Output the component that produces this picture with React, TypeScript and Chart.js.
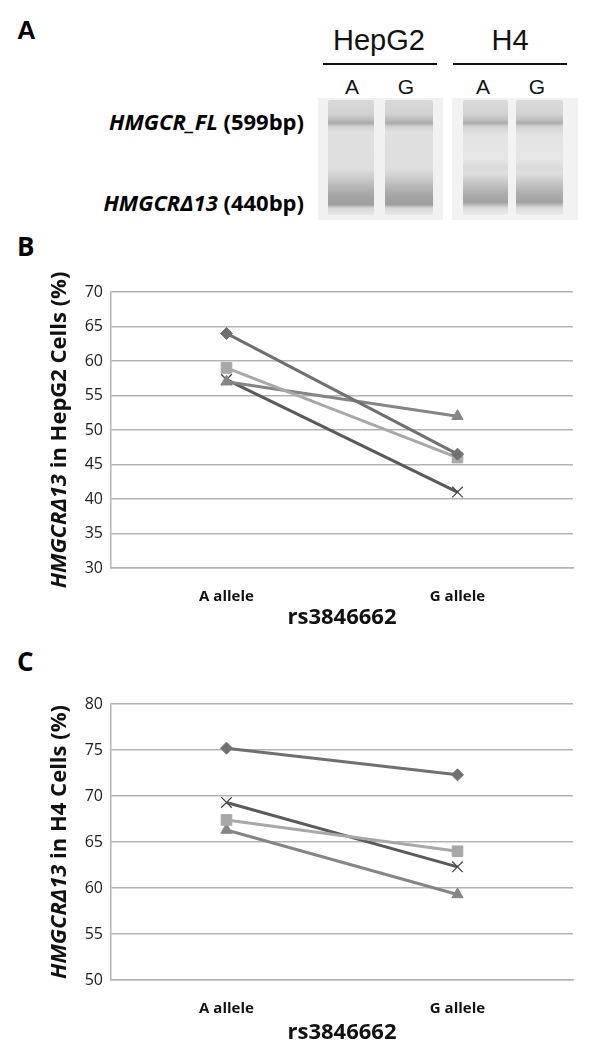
import React, { useEffect, useRef } from "react";
import { Chart, registerables } from "chart.js";

Chart.register(...registerables);

// ---------- data ----------
const categories = ["A allele", "G allele"];
const xAxisTitle = "rs3846662";

const hepg2Diamond = [64, 46.5];
const hepg2Square = [59, 46];
const hepg2Triangle = [57, 52];
const hepg2Cross = [57.3, 41];
const hepg2YMin = 30;
const hepg2YMax = 70;

const h4Diamond = [75.2, 72.3];
const h4Square = [67.4, 64];
const h4Triangle = [66.3, 59.3];
const h4Cross = [69.3, 62.3];
const h4YMin = 50;
const h4YMax = 80;

const yStep = 5;

const seriesStyles = [
  { key: "diamond", color: "#707070", point: "rectRot", radius: 6 },
  { key: "square", color: "#a8a8a8", point: "rect", radius: 7.5 },
  { key: "triangle", color: "#858585", point: "triangle", radius: 6.5 },
  { key: "cross", color: "#5a5a5a", point: "crossRot", radius: 7.5 },
];

const FONT = "'Open Sans', 'Liberation Sans', sans-serif";
const ARIAL = "'Liberation Sans', Arial, sans-serif";

// draws the rotated, mixed-style y axis title
const yTitlePlugin = {
  id: "yTitle",
  afterDraw(chart: any, _args: any, opts: any) {
    const { ctx, chartArea } = chart;
    const parts: { text: string; italic: boolean }[] = opts.parts || [];
    const size = opts.size || 20;
    ctx.save();
    ctx.translate(opts.x, (chartArea.top + chartArea.bottom) / 2);
    ctx.rotate(-Math.PI / 2);
    ctx.textBaseline = "middle";
    ctx.fillStyle = "#111";
    const fonts = parts.map(
      (p) => `${p.italic ? "italic " : ""}bold ${size}px ${FONT}`
    );
    let total = 0;
    const widths = parts.map((p, i) => {
      ctx.font = fonts[i];
      const w = ctx.measureText(p.text).width;
      total += w;
      return w;
    });
    let x = -total / 2;
    parts.forEach((p, i) => {
      ctx.font = fonts[i];
      ctx.textAlign = "left";
      ctx.fillText(p.text, x, 0);
      x += widths[i];
    });
    ctx.restore();
  },
};

type LineChartProps = {
  top: number;
  values: number[][];
  yMin: number;
  yMax: number;
  titlePadBottom: number;
  titleParts: { text: string; italic: boolean }[];
};

function LineChart({ top, values, yMin, yMax, titlePadBottom, titleParts }: LineChartProps) {
  const ref = useRef<HTMLCanvasElement | null>(null);
  useEffect(() => {
    if (!ref.current) return;
    const chart = new Chart(ref.current, {
      type: "line",
      data: {
        labels: categories,
        datasets: seriesStyles.map((s, i) => ({
          label: s.key,
          data: values[i],
          borderColor: s.color,
          backgroundColor: s.color,
          borderWidth: 3,
          pointStyle: s.point as any,
          pointRadius: s.radius,
          pointBorderWidth: s.point === "crossRot" ? 1.3 : 1,
          pointBorderColor: s.point === "crossRot" ? "#4a4a4a" : s.color,
          pointBackgroundColor: s.color,
          tension: 0,
        })),
      },
      plugins: [yTitlePlugin],
      options: {
        responsive: false,
        animation: false,
        devicePixelRatio: 1,
        layout: { padding: { top: 22, right: 27, left: 0, bottom: 0 } },
        plugins: {
          legend: { display: false },
          tooltip: { enabled: false },
          yTitle: { x: 60, size: 22, parts: titleParts },
        } as any,
        scales: {
          x: {
            offset: true,
            grid: { display: false, drawTicks: false },
            border: { display: true, color: "#b3b3b3", width: 1.5 },
            ticks: {
              padding: 20,
              color: "#111",
              font: { family: FONT, size: 15, weight: "bold" },
            },
            title: {
              display: true,
              text: xAxisTitle,
              color: "#111",
              padding: { top: 2, bottom: titlePadBottom },
              font: { family: FONT, size: 22, weight: "bold" },
            },
            afterFit: (scale: any) => {
              scale.height = 72;
            },
          },
          y: {
            min: yMin,
            max: yMax,
            grid: { color: "#b3b3b3", lineWidth: 1.5, drawTicks: false },
            border: { display: true, color: "#b3b3b3", width: 1.5 },
            ticks: {
              stepSize: yStep,
              padding: 8,
              color: "#222",
              font: { family: FONT, size: 16 },
            },
            afterFit: (scale: any) => {
              scale.width = 111;
            },
          },
        },
      },
    });
    return () => chart.destroy();
  }, []);
  return (
    <canvas
      ref={ref}
      width={600}
      height={370}
      style={{ position: "absolute", left: 0, top, width: 600, height: 370 }}
    />
  );
}

const laneGradient =
  "linear-gradient(to bottom, #d9d9d9 0%, #d2d2d2 12%, #bdbdbd 17%, #a9a9a9 20%, #cfcfcf 23%, #e0e0e0 28%, #dedede 60%, #cbcbcb 68%, #b0b0b0 78%, #a2a2a2 85%, #9e9e9e 91%, #d8d8d8 94%, #e8e8e8 100%)";
const laneGradientH4 =
  "linear-gradient(to bottom, #dbdbdb 0%, #d4d4d4 12%, #c0c0c0 17%, #acacac 20%, #d2d2d2 23%, #e3e3e3 30%, #e6e6e6 52%, #dadada 58%, #dedede 64%, #c6c6c6 72%, #acacac 82%, #a3a3a3 89%, #dcdcdc 94%, #ebebeb 100%)";

function Lane({ left, width, bg }: { left: number; width: number; bg: string }) {
  return (
    <div
      style={{
        position: "absolute",
        left,
        top: 100,
        width,
        height: 115,
        background: bg,
        borderRadius: 2,
      }}
    />
  );
}

const abs = (s: React.CSSProperties): React.CSSProperties => ({
  position: "absolute",
  margin: 0,
  whiteSpace: "nowrap",
  ...s,
});

export default function App() {
  const panelLetter = (t: string, top: number, family: string) => (
    <div
      style={abs({
        left: 17,
        top,
        fontFamily: family,
        fontWeight: "bold",
        fontSize: 26,
        lineHeight: "30px",
        color: "#000",
      })}
    >
      {t}
    </div>
  );
  const gelLabel = (top: number, italic: string, rest: string) => (
    <div
      style={abs({
        right: 600 - 304,
        top,
        fontFamily: FONT,
        fontWeight: "bold",
        fontSize: 22,
        lineHeight: "26px",
        color: "#000",
      })}
    >
      <i>{italic}</i>
      {rest}
    </div>
  );
  const topText = (t: string, cx: number, top: number, size: number, lh: number) => (
    <div
      style={abs({
        left: cx - 60,
        width: 120,
        textAlign: "center",
        top,
        fontFamily: ARIAL,
        fontSize: size,
        lineHeight: `${lh}px`,
        color: "#111",
      })}
    >
      {t}
    </div>
  );
  return (
    <div
      style={{
        position: "absolute",
        left: 0,
        top: 0,
        width: 600,
        height: 1057,
        background: "#fff",
        overflow: "hidden",
      }}
    >
      {panelLetter("A", 15, ARIAL)}
      {panelLetter("B", 231, FONT)}
      {panelLetter("C", 646, FONT)}

      {/* Panel A: gel */}
      {topText("HepG2", 379, 24, 29, 33)}
      {topText("H4", 510, 24, 29, 33)}
      <div style={abs({ left: 323, top: 63, width: 114, height: 2, background: "#111" })} />
      <div style={abs({ left: 453, top: 63, width: 114, height: 2, background: "#111" })} />
      {topText("A", 352, 74, 21, 25)}
      {topText("G", 406, 74, 21, 25)}
      {topText("A", 483, 74, 21, 25)}
      {topText("G", 537, 74, 21, 25)}
      <div style={abs({ left: 318, top: 98, width: 125, height: 122, background: "#f1f1f1" })} />
      <div style={abs({ left: 452, top: 98, width: 126, height: 122, background: "#f2f2f2" })} />
      <Lane left={328} width={46} bg={laneGradient} />
      <Lane left={385} width={48} bg={laneGradient} />
      <Lane left={463} width={45} bg={laneGradientH4} />
      <Lane left={516} width={47} bg={laneGradientH4} />
      {gelLabel(108, "HMGCR_FL", " (599bp)")}
      {gelLabel(189, "HMGCR\u039413", " (440bp)")}

      <LineChart
        top={270}
        values={[hepg2Diamond, hepg2Square, hepg2Triangle, hepg2Cross]}
        yMin={hepg2YMin}
        yMax={hepg2YMax}
        titlePadBottom={9}
        titleParts={[
          { text: "HMGCR\u039413", italic: true },
          { text: " in HepG2 Cells (%)", italic: false },
        ]}
      />
      <LineChart
        top={682}
        values={[h4Diamond, h4Square, h4Triangle, h4Cross]}
        yMin={h4YMin}
        yMax={h4YMax}
        titlePadBottom={6}
        titleParts={[
          { text: "HMGCR\u039413", italic: true },
          { text: " in H4 Cells (%)", italic: false },
        ]}
      />
    </div>
  );
}
